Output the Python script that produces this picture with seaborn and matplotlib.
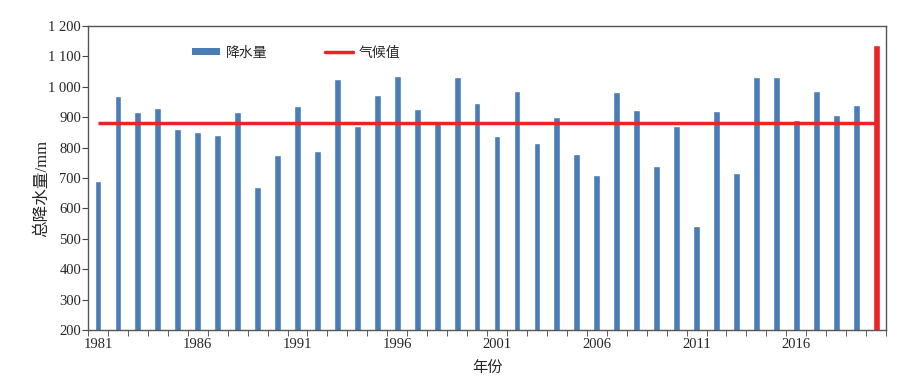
import matplotlib
matplotlib.use("Agg")
import matplotlib.pyplot as plt
import matplotlib.ticker as mticker
from matplotlib.lines import Line2D
from matplotlib.patches import Patch
import numpy as np
import pandas as pd
import seaborn as sns

# --- Data
years = list(range(1981, 2021))
precip = [
    691, 969, 916, 931, 860, 851, 843, 916, 672, 775,
    937, 788, 1026, 871, 973, 1035, 927, 889, 1032, 948,
    839, 986, 816, 902, 780, 711, 984, 923, 739, 871,
    542, 922, 715, 1034, 1033, 890, 988, 907, 940, 1138,
]
climate_value = 880
highlight_year = 2020

bar_label = "降水量"
line_label = "气候值"
xlabel = "年份"
ylabel = "总降水量/mm"

blue = "#4A7DB6"
red = "#EC2228"

df = pd.DataFrame({"year": [str(y) for y in years], "precip": precip})
bar_colors = {str(y): (red if y == highlight_year else blue) for y in years}

# --- Style
sns.set_style("ticks")
plt.rcParams["font.family"] = ["Liberation Serif", "Noto Sans CJK SC"]
plt.rcParams["axes.unicode_minus"] = False

fig = plt.figure(figsize=(9.09, 3.78), dpi=100)
ax = fig.add_axes([0.0968, 0.127, 0.878, 0.804])

sns.barplot(
    data=df,
    x="year",
    y="precip",
    hue="year",
    palette=bar_colors,
    width=0.34,
    legend=False,
    saturation=1,
    ax=ax,
)
ax.hlines(climate_value, 0, len(years) - 1, color=red, linewidth=2.5, zorder=3)

# --- Axes
ax.set_xlim(-0.5, len(years) - 0.5)
ax.set_ylim(200, 1200)
ax.yaxis.set_major_locator(mticker.MultipleLocator(100))
ax.yaxis.set_major_formatter(
    mticker.FuncFormatter(lambda v, p: f"{int(v):,}".replace(",", " "))
)

label_pos = [i for i, y in enumerate(years) if (y - 1981) % 5 == 0]
ax.set_xticks(label_pos)
ax.set_xticklabels([str(years[i]) for i in label_pos])
ax.tick_params(axis="x", length=0, labelsize=10.5, pad=6)
ax.set_xticks(np.arange(-0.5, len(years) + 0.5, 1), minor=True)
ax.tick_params(axis="x", which="minor", length=4, color="#444444", direction="out")
ax.tick_params(axis="y", length=4, color="#444444", labelsize=10.5, pad=1)

for s in ax.spines.values():
    s.set_visible(True)
    s.set_color("#555555")
    s.set_linewidth(1.0)

ax.set_xlabel(xlabel, fontsize=11, labelpad=7)
ax.set_ylabel(ylabel, fontsize=12)
ax.yaxis.set_label_coords(-0.047, 0.465)

handles = [
    Patch(facecolor=blue, edgecolor="none"),
    Line2D([0], [0], color=red, linewidth=2.5),
]
ax.legend(
    handles,
    [bar_label, line_label],
    loc="upper left",
    bbox_to_anchor=(0.115, 0.974),
    ncol=2,
    frameon=False,
    fontsize=10,
    handlelength=2.0,
    handleheight=0.45,
    handletextpad=0.45,
    columnspacing=4.1,
)

fig.savefig("out.png", dpi=100)
